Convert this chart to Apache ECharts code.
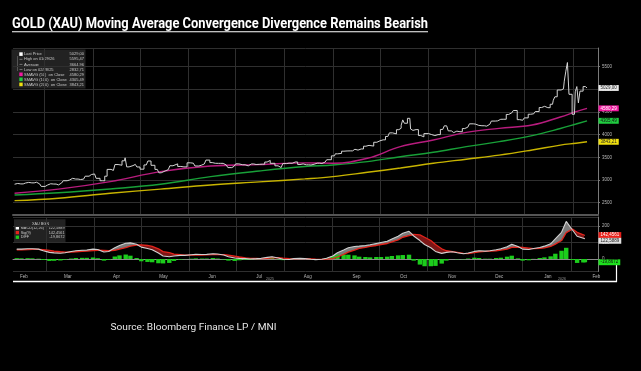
<!DOCTYPE html>
<html><head><meta charset="utf-8">
<script src="https://cdn.jsdelivr.net/npm/echarts@6/dist/echarts.min.js"></script>
<style>html,body{margin:0;padding:0;background:#000;}#chart{width:641px;height:371px;}</style>
</head><body><div id="chart"></div>
<script>
// ---------------- DATA ----------------
const priceDates = ['2025-02-10','2025-02-12','2025-02-14','2025-02-17','2025-02-19','2025-02-21','2025-02-24','2025-02-26','2025-02-28',
'2025-03-03','2025-03-05','2025-03-07','2025-03-10','2025-03-12','2025-03-14','2025-03-17','2025-03-19','2025-03-21','2025-03-24','2025-03-26','2025-03-28','2025-03-31',
'2025-04-02','2025-04-04','2025-04-07','2025-04-08','2025-04-09','2025-04-11','2025-04-14','2025-04-16','2025-04-18','2025-04-21','2025-04-22','2025-04-23','2025-04-25','2025-04-28','2025-04-30',
'2025-05-02','2025-05-05','2025-05-07','2025-05-09','2025-05-12','2025-05-14','2025-05-15','2025-05-19','2025-05-21','2025-05-23','2025-05-27','2025-05-29',
'2025-06-02','2025-06-04','2025-06-06','2025-06-09','2025-06-11','2025-06-13','2025-06-16','2025-06-18','2025-06-20','2025-06-23','2025-06-25','2025-06-27','2025-06-30',
'2025-07-02','2025-07-04','2025-07-07','2025-07-09','2025-07-11','2025-07-14','2025-07-16','2025-07-18','2025-07-21','2025-07-22','2025-07-24','2025-07-28','2025-07-30',
'2025-08-01','2025-08-04','2025-08-06','2025-08-08','2025-08-11','2025-08-13','2025-08-15','2025-08-18','2025-08-20','2025-08-22','2025-08-25','2025-08-27','2025-08-29',
'2025-09-02','2025-09-03','2025-09-05','2025-09-08','2025-09-10','2025-09-12','2025-09-15','2025-09-17','2025-09-19','2025-09-22','2025-09-23','2025-09-25','2025-09-29',
'2025-10-01','2025-10-03','2025-10-06','2025-10-08','2025-10-10','2025-10-13','2025-10-14','2025-10-15','2025-10-16','2025-10-17','2025-10-20','2025-10-21','2025-10-22','2025-10-24','2025-10-27','2025-10-28','2025-10-30',
'2025-11-03','2025-11-05','2025-11-07','2025-11-10','2025-11-12','2025-11-13','2025-11-14','2025-11-17','2025-11-19','2025-11-21','2025-11-24','2025-11-26','2025-11-28',
'2025-12-01','2025-12-03','2025-12-05','2025-12-08','2025-12-10','2025-12-12','2025-12-15','2025-12-17','2025-12-19','2025-12-22','2025-12-24','2025-12-26','2025-12-29','2025-12-31',
'2026-01-02','2026-01-05','2026-01-07','2026-01-09','2026-01-12','2026-01-14','2026-01-16','2026-01-19','2026-01-20','2026-01-21','2026-01-23','2026-01-26','2026-01-27','2026-01-28','2026-01-29','2026-01-30',
'2026-02-02','2026-02-03','2026-02-04','2026-02-05','2026-02-06','2026-02-09','2026-02-10'];
const priceValues = [2908,2925,2915,2935,2948,2938,2952,2915,2860,
2890,2918,2912,2893,2935,2985,3000,3038,3022,3012,3020,3085,3122,
3135,3038,2985,2982,3085,3235,3212,3342,3327,3424,3490,3290,3318,3345,3288,
3240,3333,3420,3325,3235,3160,3200,3230,3315,3357,3300,3290,
3380,3372,3310,3325,3355,3440,3385,3370,3368,3368,3332,3274,3303,
3357,3337,3336,3313,3355,3343,3347,3350,3397,3432,3369,3314,3275,
3363,3373,3370,3398,3342,3356,3336,3332,3348,3372,3365,3396,3448,
3533,3578,3587,3636,3641,3643,3678,3660,3685,3746,3764,3749,3833,
3865,3886,3960,4040,4018,4110,4142,4209,4326,4252,4360,4125,4095,4112,3981,3952,4024,
4001,3980,4001,4115,4195,4173,4084,4046,4078,4065,4135,4165,4239,
4232,4205,4197,4188,4228,4300,4304,4339,4340,4445,4480,4533,4331,4318,
4370,4450,4460,4510,4598,4625,4595,4670,4760,4835,4985,5010,5180,5400,5590,4890,
4450,4945,5060,4700,4960,5060,5029.00];

const maDates = ['2025-02-10','2025-03-10','2025-04-12','2025-05-14','2025-06-15','2025-07-16','2025-08-14','2025-09-01','2025-09-23','2025-10-14','2025-11-04','2025-11-25','2025-12-16','2026-01-06','2026-01-24','2026-02-03','2026-02-10'];
const sma50  = [2710,2800,2965,3185,3310,3340,3378,3372,3480,3736,3883,4052,4140,4213,4390,4507,4580.29];
const sma100 = [2672,2720,2804,2907,3075,3200,3298,3332,3405,3515,3612,3736,3846,3978,4135,4235,4305.49];
const sma200 = [2546,2600,2709,2800,2892,2960,3025,3075,3171,3265,3370,3460,3550,3663,3770,3812,3843.21];

const macdDates = ['2025-02-10','2025-02-13','2025-02-17','2025-02-20','2025-02-24','2025-02-27','2025-03-03','2025-03-06','2025-03-10','2025-03-13','2025-03-17','2025-03-20','2025-03-24','2025-03-27','2025-03-31',
'2025-04-03','2025-04-07','2025-04-10','2025-04-14','2025-04-17','2025-04-21','2025-04-24','2025-04-28','2025-05-01','2025-05-05','2025-05-08','2025-05-12','2025-05-15','2025-05-19','2025-05-22','2025-05-26','2025-05-29',
'2025-06-02','2025-06-05','2025-06-09','2025-06-12','2025-06-16','2025-06-19','2025-06-23','2025-06-26','2025-06-30','2025-07-03','2025-07-07','2025-07-10','2025-07-14','2025-07-17','2025-07-21','2025-07-24','2025-07-28','2025-07-31',
'2025-08-04','2025-08-07','2025-08-11','2025-08-14','2025-08-18','2025-08-21','2025-08-25','2025-08-28','2025-09-01','2025-09-04','2025-09-08','2025-09-11','2025-09-15','2025-09-18','2025-09-22','2025-09-25','2025-09-29',
'2025-10-02','2025-10-06','2025-10-09','2025-10-13','2025-10-16','2025-10-20','2025-10-23','2025-10-27','2025-10-30','2025-11-03','2025-11-06','2025-11-10','2025-11-13','2025-11-17','2025-11-20','2025-11-24','2025-11-27',
'2025-12-01','2025-12-04','2025-12-08','2025-12-11','2025-12-15','2025-12-18','2025-12-22','2025-12-25','2025-12-29','2026-01-01','2026-01-05','2026-01-08','2026-01-12','2026-01-15','2026-01-19','2026-01-22','2026-01-26','2026-01-29',
'2026-02-02','2026-02-05','2026-02-09','2026-02-10'];
const macdValues = [60,60,62,62,60,50,40,37,35,38,45,50,53,55,60,
58,42,45,68,82,96,98,90,72,64,56,36,18,14,18,22,22,
26,28,27,28,32,30,24,14,6,4,2,0,2,4,10,14,6,-2,
-3,2,4,2,-2,-4,-2,4,18,38,55,68,76,78,82,86,94,
100,108,122,138,156,168,140,112,88,68,46,34,40,44,38,32,36,
46,50,48,50,56,62,74,90,76,60,58,64,70,78,92,122,162,228,
176,138,126,122.5889];
const signalValues = [55,56,57,58,58,56,52,48,44,42,42,44,46,48,51,
53,52,50,53,60,69,78,84,86,82,76,62,45,38,30,26,23,
24,24,24,25,26,27,27,24,18,12,7,4,3,2,4,7,8,5,
2,1,2,2,1,-1,-2,-1,2,12,28,42,54,64,70,76,82,
88,94,104,116,132,142,150,146,132,112,88,62,50,44,40,34,33,
38,44,46,48,50,54,60,70,72,70,66,63,64,68,76,90,112,160,
182,162,147,142.4561];
const diffValues = [5,4,5,4,2,-6,-12,-11,-9,-4,3,6,7,7,9,
5,-10,-5,15,22,27,20,6,-14,-18,-20,-26,-27,-24,-12,-4,-1,
2,4,3,3,6,3,-3,-10,-12,-8,-5,-4,-1,2,6,7,-2,-7,
-5,1,2,0,-3,-3,0,5,16,26,27,26,22,14,12,10,12,
12,14,18,22,24,26,-10,-34,-44,-44,-42,-28,-10,0,-2,-2,3,
8,6,2,2,6,8,14,20,4,-10,-8,1,6,10,16,32,50,68,
-6,-24,-21,-19.8672];

const priceLegend = [['Last Price', null], ['High on 01/29/26', '5595,47'], ['Average', '3664,96'], ['Low on 02/28/25', '2832,71'],
  ['SMAVG (50)  on Close', null], ['SMAVG (100)  on Close', null], ['SMAVG (200)  on Close', null]];
const macdLegendTitle = 'XAU BGN';
const macdLegendLabels = ['MACD(12,26)', 'Sig(9)', 'DIFF'];
const monthNames = ['Jan','Feb','Mar','Apr','May','Jun','Jul','Aug','Sep','Oct','Nov','Dec'];
const titleText = 'GOLD (XAU) Moving Average Convergence Divergence Remains Bearish';
const sourceText = 'Source: Bloomberg Finance LP / MNI';

// ---------------- HELPERS ----------------
const zip = (d, v) => d.map((x, i) => [x, v[i]]);
const last = a => a[a.length - 1];
const fmt = (v, n) => v.toFixed(n).replace('.', ',');
function textWidth(str, font) { const c = document.createElement('canvas').getContext('2d'); c.font = font; return c.measureText(str).width; }

const C = {
  price: '#d4d4d4', sma50: '#b81c7e', sma100: '#18a038', sma200: '#c8b400',
  tag50: '#f01aa0', tag100: '#20cc40', tag200: '#f0e010',
  macd: '#d0d0d0', sig: '#e3241c', diff: '#1ccc1c', grid: '#2f2f2f', axis: '#7a7a7a', label: '#b8b8b8'
};
const tinyFont = 'Liberation Sans';

function tag(value, text, bg, fg, dy) {
  return {
    silent: true, symbol: 'none', animation: false,
    lineStyle: { width: 0, color: 'rgba(0,0,0,0)', type: 'solid' },
    label: { show: true, position: 'end', formatter: text, backgroundColor: bg, color: fg, fontSize: 4.5,
      fontFamily: tinyFont, padding: [0.8, 2, 0.3, 2], distance: 0.5, lineHeight: 4.8, opacity: 1, offset: [0, dy || 0] },
    emphasis: { disabled: true },
    data: [{ yAxis: value }]
  };
}

const macdBase = macdValues.map((m, i) => Math.min(m, signalValues[i]));
const macdUp = macdValues.map((m, i) => Math.max(m - signalValues[i], 0));
const macdDown = macdValues.map((m, i) => Math.max(signalValues[i] - m, 0));

const xMin = '2025-02-09', xMax = '2026-02-17';
const DAY = 86400000;

// ---------------- GRAPHICS (legends, title) ----------------
const g = [];
const titleFont = 'bold 14px Roboto';
const tW = textWidth(titleText, titleFont);
g.push({ type: 'text', x: 12, y: 24.5, scaleX: 416 / tW, style: { text: titleText, font: titleFont, fill: '#fff', verticalAlign: 'middle' } });
g.push({ type: 'line', shape: { x1: 12, y1: 31.8, x2: 428, y2: 31.8 }, style: { stroke: '#fff', lineWidth: 1.1 } });
const srcFont = '9.5px Roboto';
const sW = textWidth(sourceText, srcFont);
g.push({ type: 'text', x: 110.5, y: 327.5, scaleX: 166 / sW, style: { text: sourceText, font: srcFont, fill: '#e6e6e6', verticalAlign: 'middle' } });
g.push({ type: 'line', shape: { x1: 13, y1: 281.5, x2: 617, y2: 281.5 }, style: { stroke: '#fff', lineWidth: 1.5 } });
g.push({ type: 'line', shape: { x1: 616.5, y1: 264.5, x2: 616.5, y2: 282 }, style: { stroke: '#fff', lineWidth: 1.2 } });
g.push({ type: 'text', x: 270, y: 279, style: { text: '2025', font: '3.5px ' + tinyFont, fill: '#999', align: 'center', verticalAlign: 'middle' } });
g.push({ type: 'text', x: 562, y: 279, style: { text: '2026', font: '3.5px ' + tinyFont, fill: '#999', align: 'center', verticalAlign: 'middle' } });

const pVals = [fmt(last(priceValues), 2), priceLegend[1][1], priceLegend[2][1], priceLegend[3][1], fmt(last(sma50), 2), fmt(last(sma100), 2), fmt(last(sma200), 2)];
const pIcons = ['#ffffff', null, null, null, C.tag50, C.tag100, C.tag200];
g.push({ type: 'rect', shape: { x: 11.5, y: 49.5, width: 74, height: 39 }, style: { fill: 'rgba(38,38,38,0.9)' } });
g.push({ type: 'line', shape: { x1: 17.5, y1: 56, x2: 17.5, y2: 71 }, style: { stroke: '#777', lineWidth: 0.6 } });
priceLegend.forEach((r, i) => {
  const y = 54.3 + i * 5.05;
  if (pIcons[i]) g.push({ type: 'rect', shape: { x: 19.3, y: y - 2, width: 3.4, height: 3.6 }, style: { fill: pIcons[i] } });
  else g.push({ type: 'line', shape: { x1: 19.5, y1: y, x2: 22.5, y2: y }, style: { stroke: '#aaa', lineWidth: 0.6 } });
  g.push({ type: 'text', x: 24, y: y, style: { text: r[0], font: '4px ' + tinyFont, fill: '#c8c8c8', verticalAlign: 'middle' } });
  g.push({ type: 'text', x: 84, y: y, style: { text: pVals[i], font: '4px ' + tinyFont, fill: '#c8c8c8', align: 'right', verticalAlign: 'middle' } });
});
const mVals = [fmt(last(macdValues), 4), fmt(last(signalValues), 4), fmt(last(diffValues), 4)];
const mIcons = ['#ffffff', '#e3241c', '#1ccc1c'];
g.push({ type: 'rect', shape: { x: 14, y: 219.3, width: 51.5, height: 23.5 }, style: { fill: 'rgba(38,38,38,0.9)' } });
g.push({ type: 'text', x: 40.5, y: 224.2, style: { text: macdLegendTitle, font: '3.8px ' + tinyFont, fill: '#c8c8c8', align: 'center', verticalAlign: 'middle' } });
macdLegendLabels.forEach((l, i) => {
  const y = 227.9 + i * 4.7;
  g.push({ type: 'rect', shape: { x: 15.7, y: y - 1.7, width: 3.3, height: 3.3 }, style: { fill: mIcons[i] } });
  g.push({ type: 'text', x: 20.7, y: y, style: { text: l, font: '3.8px ' + tinyFont, fill: '#c8c8c8', verticalAlign: 'middle' } });
  g.push({ type: 'text', x: 64.5, y: y, style: { text: mVals[i], font: '3.8px ' + tinyFont, fill: '#c8c8c8', align: 'right', verticalAlign: 'middle' } });
});

// ---------------- CHART ----------------
const chart = echarts.init(document.getElementById('chart'), null, { renderer: 'canvas' });
const splitX = { show: true, lineStyle: { color: C.grid, width: 1 }, showMinLine: false, showMaxLine: false };
const timeAxisBase = { type: 'time', min: xMin, max: xMax, splitNumber: 12, minInterval: 28 * DAY, maxInterval: 31 * DAY,
  axisLabel: { show: false }, axisTick: { show: false } };
const yLabel = { margin: 4, fontSize: 4.5, fontFamily: tinyFont, color: C.label, showMinLabel: false, showMaxLabel: false, formatter: v => String(v) };

chart.setOption({
  animation: false,
  backgroundColor: '#000',
  graphic: g,
  grid: [
    { left: 13, right: 43, top: 48, height: 167 },
    { left: 13, right: 43, top: 217, height: 54.5 }
  ],
  xAxis: [
    Object.assign({}, timeAxisBase, { gridIndex: 0, splitLine: splitX, axisLine: { show: true, lineStyle: { color: '#555', width: 2 } } }),
    Object.assign({}, timeAxisBase, { gridIndex: 1, splitLine: splitX, axisLine: { show: true, lineStyle: { color: '#8a8a8a', width: 1 } } }),
    { type: 'time', gridIndex: 1, position: 'bottom', min: '2025-01-25', max: '2026-02-02', splitNumber: 12,
      minInterval: 28 * DAY, maxInterval: 31 * DAY,
      axisLine: { show: false }, axisTick: { show: false }, splitLine: { show: false },
      axisLabel: { show: true, margin: 3, fontSize: 4.5, fontFamily: tinyFont, color: C.label, showMinLabel: false, showMaxLabel: false,
        hideOverlap: false, formatter: v => monthNames[new Date(v).getMonth()] } }
  ],
  yAxis: [
    { type: 'value', gridIndex: 0, position: 'right', min: 2230, max: 5910, splitNumber: 7,
      axisLine: { show: true, lineStyle: { color: C.axis } }, axisTick: { show: true, length: 2, lineStyle: { color: C.axis } },
      splitLine: { show: true, lineStyle: { color: C.grid } }, axisLabel: yLabel },
    { type: 'value', gridIndex: 1, position: 'right', min: -76, max: 255, splitNumber: 3,
      axisLine: { show: true, lineStyle: { color: C.axis } }, axisTick: { show: true, length: 2, lineStyle: { color: C.axis } },
      splitLine: { show: true, lineStyle: { color: C.grid } }, axisLabel: yLabel }
  ],
  series: [
    { name: 'SMAVG 200', type: 'line', xAxisIndex: 0, yAxisIndex: 0, data: zip(maDates, sma200), smooth: 0.4, showSymbol: false,
      lineStyle: { color: C.sma200, width: 1.4 }, z: 3, markLine: tag(last(sma200), fmt(last(sma200), 2), C.tag200, '#222') },
    { name: 'SMAVG 100', type: 'line', xAxisIndex: 0, yAxisIndex: 0, data: zip(maDates, sma100), smooth: 0.4, showSymbol: false,
      lineStyle: { color: C.sma100, width: 1.4 }, z: 3, markLine: tag(last(sma100), fmt(last(sma100), 2), C.tag100, '#111') },
    { name: 'SMAVG 50', type: 'line', xAxisIndex: 0, yAxisIndex: 0, data: zip(maDates, sma50), smooth: 0.4, showSymbol: false,
      lineStyle: { color: C.sma50, width: 1.4 }, z: 3, markLine: tag(last(sma50), fmt(last(sma50), 2), C.tag50, '#fff') },
    { name: 'Last Price', type: 'line', xAxisIndex: 0, yAxisIndex: 0, data: zip(priceDates, priceValues), step: 'middle', showSymbol: false,
      lineStyle: { color: C.price, width: 1 }, z: 4, markLine: tag(last(priceValues), fmt(last(priceValues), 2), '#e8e8e8', '#222') },

    { name: 'base', type: 'line', xAxisIndex: 1, yAxisIndex: 1, data: zip(macdDates, macdBase), stack: 'fill', stackStrategy: 'all',
      showSymbol: false, lineStyle: { opacity: 0 }, z: 2 },
    { name: 'up', type: 'line', xAxisIndex: 1, yAxisIndex: 1, data: zip(macdDates, macdUp), stack: 'fill', stackStrategy: 'all',
      showSymbol: false, lineStyle: { opacity: 0 }, areaStyle: { color: '#7a7a7a', opacity: 1 }, z: 2 },
    { name: 'down', type: 'line', xAxisIndex: 1, yAxisIndex: 1, data: zip(macdDates, macdDown), stack: 'fill', stackStrategy: 'all',
      showSymbol: false, lineStyle: { opacity: 0 }, areaStyle: { color: '#7c1616', opacity: 1 }, z: 2 },
    { name: 'DIFF', type: 'bar', xAxisIndex: 1, yAxisIndex: 1, data: zip(macdDates, diffValues), barWidth: 4.4,
      itemStyle: { color: C.diff }, z: 3, markLine: tag(last(diffValues), fmt(last(diffValues), 4), '#1ee01e', '#111') },
    { name: 'Sig', type: 'line', xAxisIndex: 1, yAxisIndex: 1, data: zip(macdDates, signalValues), showSymbol: false,
      lineStyle: { color: C.sig, width: 1.3 }, z: 4, markLine: tag(last(signalValues), fmt(last(signalValues), 4), '#e8201a', '#fff', -0.5) },
    { name: 'MACD', type: 'line', xAxisIndex: 1, yAxisIndex: 1, data: zip(macdDates, macdValues), showSymbol: false,
      lineStyle: { color: C.macd, width: 1.1 }, z: 4, markLine: tag(last(macdValues), fmt(last(macdValues), 4), '#e0e0e0', '#222', 2) }
  ]
});
</script>
</body></html>
